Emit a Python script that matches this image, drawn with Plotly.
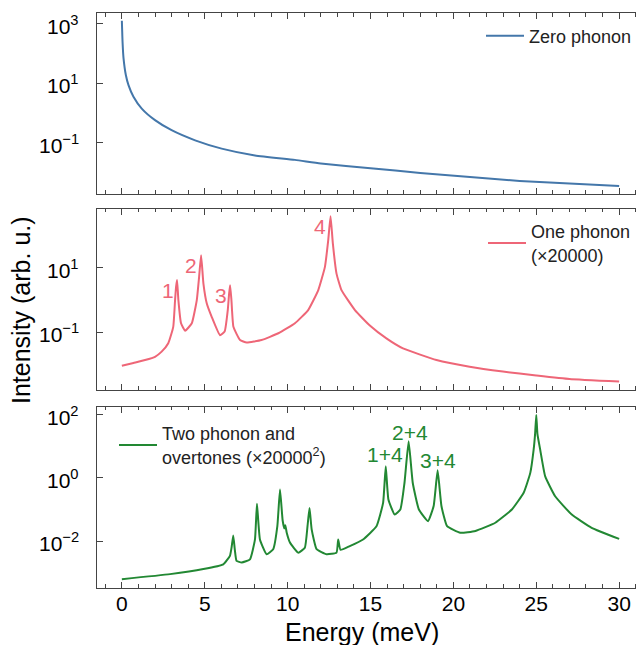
import plotly.graph_objects as go

# ---------------- data ----------------
zero_E = [0, 0.02, 0.04, 0.1, 0.24, 0.4, 0.7, 1.2, 2.0, 3.0, 4.42, 6.02, 8.03, 10.44,
          12, 15, 18, 21, 24, 27, 30]
zero_I = [1290, 560, 257, 70.8, 19.1, 8.71, 3.55, 1.41, 0.575, 0.263, 0.120, 0.0631,
          0.0372, 0.0263, 0.0200, 0.0138, 0.00955, 0.00692, 0.00513, 0.00417, 0.00347]

one_E = [0, 0.7, 1.4, 2.0, 2.4, 2.8, 3.1, 3.21, 3.27, 3.33, 3.41, 3.57, 3.82, 4.22,
         4.52, 4.66, 4.78, 4.92, 5.12, 5.42, 5.92, 6.2, 6.39, 6.47, 6.53, 6.61, 6.73,
         7.13, 7.53, 8.43, 9.44, 10.44, 11.24, 11.85, 12.25, 12.45, 12.59, 12.73,
         12.95, 13.25, 14.06, 14.96, 15.96, 16.96, 18.98, 20.98, 22.99, 25.0, 27.0, 30.0]
one_I = [0.00912, 0.0112, 0.0138, 0.0174, 0.0251, 0.0457, 0.148, 1.0, 2.57, 4.17, 1.0,
         0.191, 0.112, 0.191, 1.0, 5.25, 24.5, 3.24, 0.794, 0.302, 0.0813, 0.105, 0.49,
         1.58, 2.88, 1.0, 0.148, 0.0575, 0.0479, 0.0575, 0.0933, 0.191, 0.49, 2.04,
         10.7, 72.4, 398, 56.2, 6.61, 2.04, 0.49, 0.162, 0.0646, 0.0316, 0.0138,
         0.00851, 0.00603, 0.00457, 0.00355, 0.00295]

two_E = [0, 2.91, 4.92, 6.12, 6.52, 6.62, 6.72, 6.82, 6.92, 7.23, 7.73, 8.03, 8.15,
         8.33, 8.73, 9.13, 9.38, 9.54, 9.7, 9.8, 9.86, 9.95, 10.14, 10.64, 11.04, 11.2,
         11.32, 11.45, 11.75, 12.35, 12.95, 13.05, 13.19, 13.75, 14.55, 15.36, 15.76,
         15.92, 16.08, 16.46, 16.8, 17.05, 17.3, 17.55, 17.92, 18.47, 18.81, 19.05,
         19.28, 19.62, 20.42, 21.33, 22.53, 23.53, 24.24, 24.64, 24.84, 24.93, 25.0,
         25.07, 25.24, 25.54, 26.14, 27.14, 28.34, 30.0]
two_I = [6.17e-4, 8.91e-4, 1.29e-3, 1.82e-3, 3.39e-3, 6.31e-3, 0.0151, 5.01e-3, 2.34e-3,
         2.09e-3, 2.63e-3, 0.0112, 0.151, 0.0112, 3.8e-3, 5.5e-3, 0.0295, 0.427, 0.0447,
         0.0251, 0.0316, 0.0178, 8.91e-3, 4.27e-3, 6.17e-3, 0.0295, 0.112, 0.0234, 5.5e-3,
         3.8e-3, 4.27e-3, 0.0112, 5.25e-3, 6.92e-3, 0.0112, 0.0295, 0.162, 2.34, 0.209,
         0.0692, 0.1, 0.692, 14.5, 0.692, 0.1, 0.0427, 0.129, 1.74, 0.129, 0.0295, 0.0182,
         0.0209, 0.038, 0.1, 0.339, 1.45, 7.76, 25.1, 100, 25.1, 7.76, 1.12, 0.263,
         0.0692, 0.0263, 0.0117]

one_labels = ["1", "2", "3", "4"]
one_label_E = [2.79, 4.18, 5.96, 11.94]
one_label_logI = [0.31, 1.08, 0.15, 2.27]

two_labels = ["1+4", "2+4", "3+4"]
two_label_E = [15.85, 17.4, 19.1]
two_label_logI = [0.74, 1.44, 0.55]

x_tickvals = [0, 5, 10, 15, 20, 25, 30]
y1_tick_exp = [-1, 1, 3]
y2_tick_exp = [-1, 1]
y3_tick_exp = [-2, 0, 2]

# ---------------- style ----------------
BLUE, RED, GREEN = "#4477AA", "#EE6677", "#228833"
FONT = "Liberation Sans, Arial, Helvetica, sans-serif"
AX = "#444444"
OFF = 8                      # the page body has an 8 px margin
PAGE_W, PAGE_H = 644, 645
W, H = PAGE_W - OFF, PAGE_H - OFF
# plot area in page pixels: x 97..644, y 13..588
L, T = 97 - OFF, 13 - OFF
B = H - (588 - OFF)
R = 0
plot_w = W - L - R
plot_h = H - T - B


def px_x(px):
    """page x pixel -> paper fraction"""
    return (px - OFF - L) / plot_w


def px_y(py):
    """page y pixel -> paper fraction"""
    return (H - B - (py - OFF)) / plot_h


def pdom(top_px, bot_px):
    return [px_y(bot_px), px_y(top_px)]


def exp_label(n):
    return "10<sup>" + ("−" + str(-n) if n < 0 else str(n)) + "</sup>"


fig = go.Figure()
fig.add_trace(go.Scatter(x=zero_E, y=zero_I, mode="lines", name="Zero phonon",
                         line=dict(color=BLUE, width=2, shape="spline", smoothing=0.5),
                         xaxis="x", yaxis="y", legend="legend", showlegend=True))
fig.add_trace(go.Scatter(x=one_E, y=one_I, mode="lines", name="One phonon<br>(×20000)",
                         line=dict(color=RED, width=2, shape="spline", smoothing=0.4),
                         xaxis="x2", yaxis="y2", legend="legend2", showlegend=True))
fig.add_trace(go.Scatter(x=two_E, y=two_I, mode="lines",
                         name="Two phonon and<br>overtones (×20000<sup>2</sup>)",
                         line=dict(color=GREEN, width=2, shape="spline", smoothing=0.4),
                         xaxis="x3", yaxis="y3", legend="legend3", showlegend=True))

xcommon = dict(range=[-1.5, 31.5], showline=True, linecolor=AX, linewidth=1.3,
               mirror="allticks", ticks="inside", ticklen=6, tickwidth=1.1,
               tickcolor=AX, tickvals=x_tickvals, showgrid=False, zeroline=False,
               automargin=False,
               minor=dict(dtick=1, tick0=0, ticks="inside", ticklen=3.5,
                          tickwidth=1, tickcolor=AX, showgrid=False),
               tickfont=dict(family=FONT, size=21, color="black"))
ycommon = dict(type="log", showline=True, linecolor=AX, linewidth=1.3,
               mirror="allticks", ticks="inside", ticklen=6, tickwidth=1.1,
               tickcolor=AX, showgrid=False, zeroline=False, automargin=False,
               showticklabels=False)

fig.update_layout(
    width=W, height=H, margin=dict(l=L, r=R, t=T, b=B, autoexpand=False),
    paper_bgcolor="white", plot_bgcolor="white", showlegend=True,
    font=dict(family=FONT, color="black"),
    xaxis=dict(xcommon, anchor="y", showticklabels=False, matches="x3"),
    xaxis2=dict(xcommon, anchor="y2", showticklabels=False, matches="x3"),
    xaxis3=dict(xcommon, anchor="y3", ticklabelstandoff=-3),
    yaxis=dict(ycommon, anchor="x", domain=pdom(13, 194), range=[-2.73, 3.37],
               tickvals=[10 ** n for n in y1_tick_exp]),
    yaxis2=dict(ycommon, anchor="x2", domain=pdom(208.5, 390), range=[-2.79, 2.84],
                tickvals=[10 ** n for n in y2_tick_exp]),
    yaxis3=dict(ycommon, anchor="x3", domain=pdom(406.7, 588), range=[-3.49, 2.26],
                tickvals=[10 ** n for n in y3_tick_exp]),
    legend=dict(x=px_x(481), y=px_y(36), xanchor="left",
                yanchor="middle", bgcolor="rgba(0,0,0,0)", itemwidth=38,
                font=dict(family=FONT, size=18, color="#222222")),
    legend2=dict(x=px_x(483), y=px_y(243), xanchor="left",
                 yanchor="middle", bgcolor="rgba(0,0,0,0)", itemwidth=38,
                 valign="middle",
                 font=dict(family=FONT, size=18, color="#222222")),
    legend3=dict(x=px_x(114), y=px_y(445), xanchor="left",
                 yanchor="middle", bgcolor="rgba(0,0,0,0)", itemwidth=38,
                 valign="middle",
                 font=dict(family=FONT, size=18, color="#222222")),
)

annotations = []
# y tick labels (placed as text so their gap to the axis matches the reference)
for yref, exps in (("y", y1_tick_exp), ("y2", y2_tick_exp), ("y3", y3_tick_exp)):
    for n in exps:
        annotations.append(dict(x=px_x(81), y=n, xref="paper", yref=yref,
                                text=exp_label(n), showarrow=False,
                                xanchor="right", yanchor="middle", yshift=-1,
                                font=dict(family=FONT, size=21, color="black")))
for t, e, ly in zip(one_labels, one_label_E, one_label_logI):
    annotations.append(dict(x=e, y=ly, xref="x2", yref="y2", text=t, showarrow=False,
                            font=dict(family=FONT, size=21, color=RED)))
for t, e, ly in zip(two_labels, two_label_E, two_label_logI):
    annotations.append(dict(x=e, y=ly, xref="x3", yref="y3", text=t, showarrow=False,
                            font=dict(family=FONT, size=21, color=GREEN)))
annotations.append(dict(x=px_x(21), y=px_y(310), xref="paper",
                        yref="paper", text="Intensity (arb. u.)", textangle=-90,
                        xanchor="center", yanchor="middle",
                        showarrow=False, font=dict(family=FONT, size=25, color="black")))
annotations.append(dict(x=px_x(362), y=px_y(632), xref="paper",
                        yref="paper", text="Energy (meV)", showarrow=False,
                        xanchor="center", yanchor="middle",
                        font=dict(family=FONT, size=25, color="black")))
fig.update_layout(annotations=annotations)

fig.write_html("out.html")
